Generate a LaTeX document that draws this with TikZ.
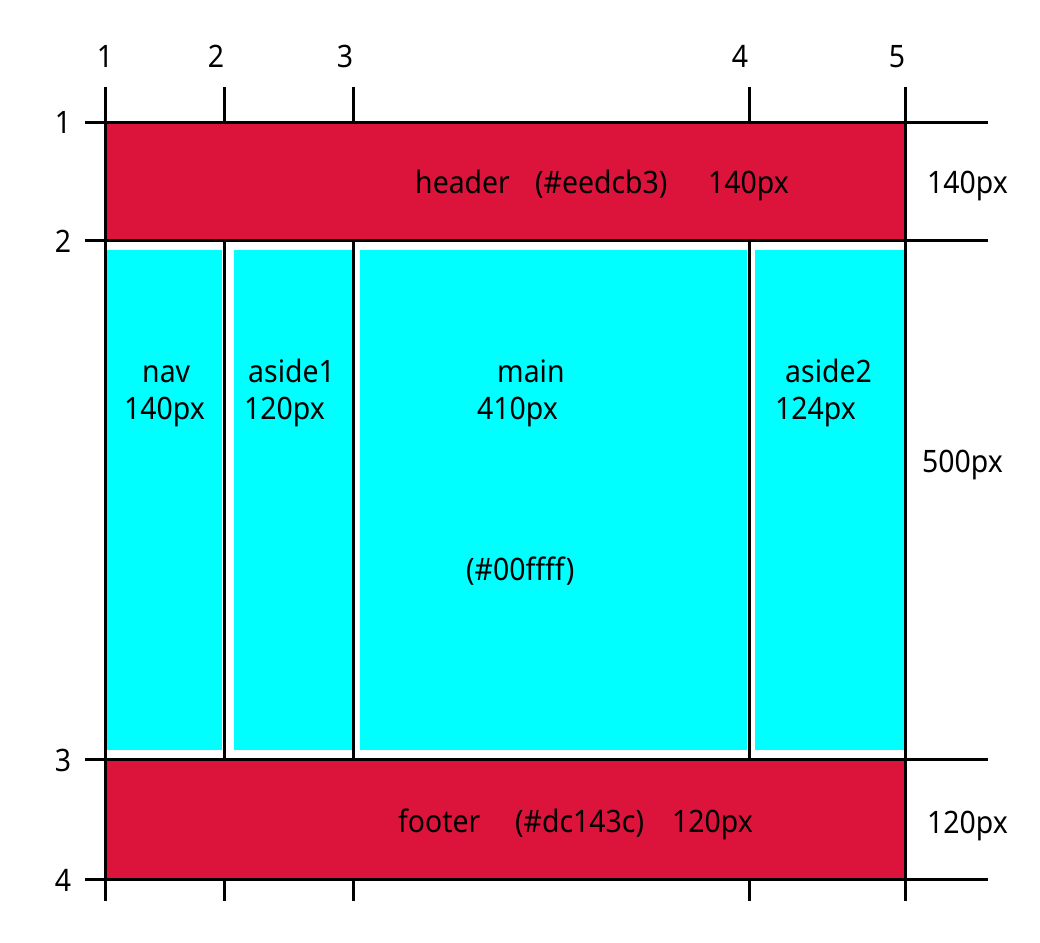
\documentclass[tikz,border=0pt]{standalone}
\usepackage{fontspec}
\setmainfont[FakeStretch=0.92]{Noto Sans}
\definecolor{crimson}{HTML}{DC143C}
\definecolor{aqua}{HTML}{00FFFF}
\begin{document}
\begin{tikzpicture}[x=1bp,y=-1bp,
  gridline/.style={line width=3bp,black},
  lbl/.style={inner sep=0pt,anchor=base west,font=\fontsize{31}{36}\selectfont},
  num/.style={inner sep=0pt,anchor=base,font=\fontsize{31}{36}\selectfont}]
\useasboundingbox[fill=white] (0,0) rectangle (1040,943);
% fills
\fill[crimson] (105,122) rectangle (905,240);
\fill[crimson] (105,759) rectangle (905,879);
\fill[aqua] (106,250) rectangle (222,750);
\fill[aqua] (234,250) rectangle (352,750);
\fill[aqua] (360,250) rectangle (747,750);
\fill[aqua] (755,250) rectangle (904,750);
% vertical lines
\draw[gridline] (105,87) -- (105,901);
\draw[gridline] (905,87) -- (905,901);
\foreach \x in {224,353,749}{
  \draw[gridline] (\x,87) -- (\x,122);
  \draw[gridline] (\x,240) -- (\x,759);
  \draw[gridline] (\x,879) -- (\x,901);
}
% horizontal lines
\foreach \y in {122,240,759,879}{
  \draw[gridline] (85,\y) -- (988,\y);
}
% column numbers
\node[num] (c1) at (105,67) {1};
\node[num] (c2) at (216,67) {2};
\node[num] (c3) at (345,67) {3};
\node[num] (c4) at (740,67) {4};
\node[num] (c5) at (897,67) {5};
% row numbers
\node[num] (r1) at (63,133) {1};
\node[num] (r2) at (63,252) {2};
\node[num] (r3) at (63,771) {3};
\node[num] (r4) at (63,891) {4};
% header
\node[lbl] (h1) at (415,193) {header};
\node[lbl] (h2) at (535,193) {(\#eedcb3)};
\node[lbl] (h3) at (708,193) {140px};
% footer
\node[lbl] (f1) at (398,832) {footer};
\node[lbl] (f2) at (515,832) {(\#dc143c)};
\node[lbl] (f3) at (672,832) {120px};
% columns
\node[lbl] (nav1) at (142,382) {nav};
\node[lbl] (nav2) at (124,419) {140px};
\node[lbl] (as11) at (248,382) {aside1};
\node[lbl] (as12) at (244,419) {120px};
\node[lbl] (mn1) at (497,382) {main};
\node[lbl] (mn2) at (477,419) {410px};
\node[lbl] (mn3) at (466,580) {(\#00ffff)};
\node[lbl] (as21) at (785,382) {aside2};
\node[lbl] (as22) at (775,419) {124px};
% right labels
\node[lbl] (s1) at (927,193) {140px};
\node[lbl] (s2) at (922,472) {500px};
\node[lbl] (s3) at (927,833) {120px};
\end{tikzpicture}
\end{document}
